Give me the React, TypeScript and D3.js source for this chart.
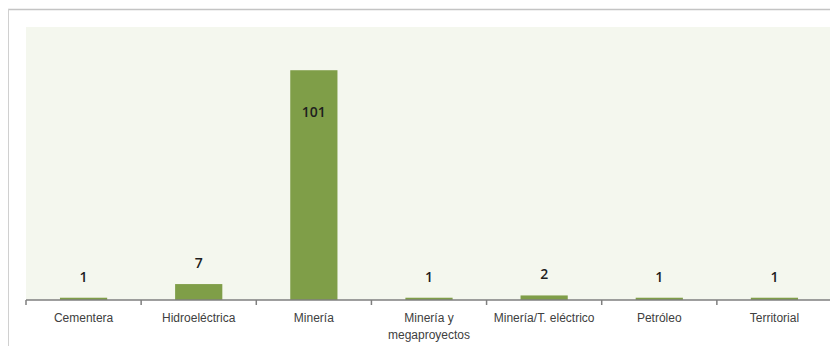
import React from 'react';
import * as d3 from 'd3';

// conflict counts by sector
const categories = ['Cementera', 'Hidroeléctrica', 'Minería', 'Minería y megaproyectos', 'Minería/T. eléctrico', 'Petróleo', 'Territorial'];
const labelLines = [['Cementera'], ['Hidroeléctrica'], ['Minería'], ['Minería y', 'megaproyectos'], ['Minería/T. eléctrico'], ['Petróleo'], ['Territorial']];
const values = [1, 7, 101, 1, 2, 1, 1];

const W = 838;
const H = 354;
const margin = {top: 27, right: 6, bottom: 54, left: 26};

export default function App() {
  const plotW = W - margin.left - margin.right;
  const plotH = H - margin.top - margin.bottom;

  const x = d3.scaleBand<string>().domain(categories).range([0, plotW]).paddingInner(0.59).paddingOuter(0.295);
  const y = d3.scaleLinear().domain([0, 120]).range([plotH, 0]);

  // tick marks sit on the band boundaries
  const edges = d3.range(categories.length + 1).map(i => i * (plotW / categories.length));

  return (
    <div style={{margin: -8}}>
      <svg width={W} height={H} style={{display: 'block', background: '#fff'}}>
        {/* outer frame */}
        <line x1={8} x2={W} y1={9.5} y2={9.5} stroke="#c4c4c4" strokeWidth={1.5} />
        <line x1={8.5} x2={8.5} y1={9} y2={H} stroke="#d0d0d0" strokeWidth={1} />
        <g transform={`translate(${margin.left},${margin.top})`}>
          <rect x={0} y={0} width={plotW} height={plotH} fill="#f4f7ee" />
          {values.map((v, i) => (
            <rect key={categories[i]} x={x(categories[i])} y={y(v)} width={x.bandwidth()} height={plotH - y(v)} fill="#7f9e48" />
          ))}
          {values.map((v, i) => {
            const cx = (x(categories[i]) || 0) + x.bandwidth() / 2;
            const inside = v > 50;
            return (
              <text key={'v' + i} x={cx} y={inside ? y(v) + 47 : y(v) - 16} textAnchor="middle"
                fontFamily="'Open Sans', 'DejaVu Sans', sans-serif" fontSize={14} fontWeight={600} fill="#1e1e1e">{v}</text>
            );
          })}
          <line x1={0} x2={plotW} y1={plotH} y2={plotH} stroke="#7f7f7f" strokeWidth={1.5} />
          {edges.map((e, i) => (
            <line key={'t' + i} x1={e} x2={e} y1={plotH} y2={plotH + 5} stroke="#7f7f7f" strokeWidth={1.5} />
          ))}
          {labelLines.map((lines, i) => {
            const cx = (x(categories[i]) || 0) + x.bandwidth() / 2;
            return (
              <text key={'c' + i} x={cx} y={plotH + 22} textAnchor="middle"
                fontFamily="'Liberation Sans', Arial, sans-serif" fontSize={12} fill="#404040">
                {lines.map((l, j) => (
                  <tspan key={j} x={cx} dy={j === 0 ? 0 : 17}>{l}</tspan>
                ))}
              </text>
            );
          })}
        </g>
      </svg>
    </div>
  );
}
